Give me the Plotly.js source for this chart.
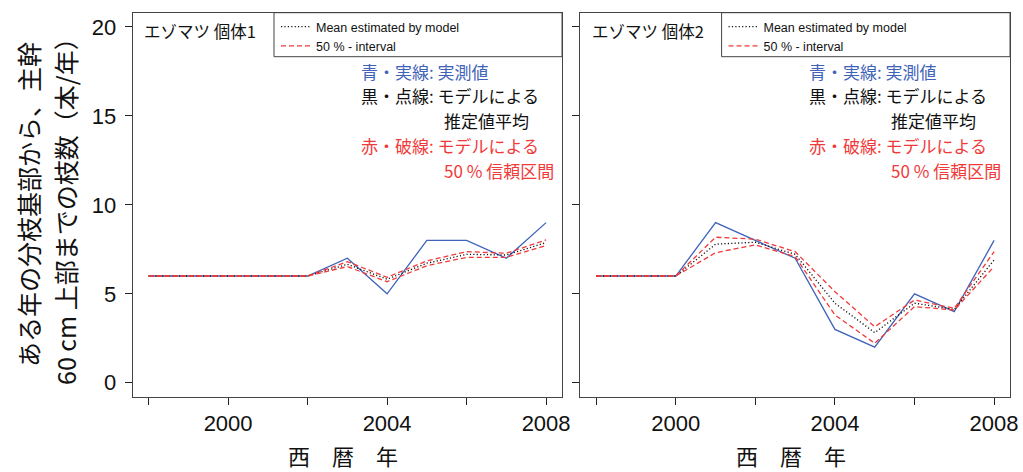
<!DOCTYPE html>
<html>
<head>
<meta charset="utf-8">
<script src="https://cdn.plot.ly/plotly-3.0.1.min.js"></script>
<style>
  html, body { margin: 0; padding: 0; background: #fff; }
  #chart { width: 1023px; height: 472px; }
</style>
</head>
<body>
<div id="chart"></div>
<script>
// Years of observation
const years = [1998, 1999, 2000, 2001, 2002, 2003, 2004, 2005, 2006, 2007, 2008];

// Tree 1: observed counts, model mean, 50 % interval bounds
const obs1  = [6, 6, 6, 6, 6, 7, 5, 8, 8, 7, 9];
const mean1 = [6, 6, 6, 6, 6, 6.66, 5.82, 6.72, 7.22, 7.18, 7.88];
const lo1   = [6, 6, 6, 6, 6, 6.53, 5.68, 6.58, 7.05, 7.05, 7.71];
const hi1   = [6, 6, 6, 6, 6, 6.81, 5.93, 6.85, 7.37, 7.28, 8.03];

// Tree 2
const obs2  = [6, 6, 6, 9, 8, 7, 3, 2, 5, 4, 8];
const mean2 = [6, 6, 6, 7.79, 7.9, 7.22, 4.47, 2.82, 4.47, 4.13, 6.9];
const lo2   = [6, 6, 6, 7.31, 7.75, 7.09, 3.81, 2.22, 4.28, 4.09, 6.53];
const hi2   = [6, 6, 6, 8.18, 8.07, 7.37, 5.12, 3.15, 4.65, 4.19, 7.37];

// Axis ticks
const xTickVals = [1998, 2000, 2002, 2004, 2006, 2008];
const xTickText = ['', '2000', '', '2004', '', '2008'];
const yTickVals = [0, 5, 10, 15, 20];

// Text
const panelNames = ['エゾマツ 個体1', 'エゾマツ 個体2'];
const meanName = 'Mean estimated by model';
const intervalName = '50 % - interval';
const noteLines = [
  {text: '青・実線: 実測値', color: 'blue', indent: false},
  {text: '黒・点線: モデルによる', color: 'black', indent: false},
  {text: '推定値平均', color: 'black', indent: true},
  {text: '赤・破線: モデルによる', color: 'red', indent: false},
  {text: '50 % 信頼区間', color: 'red', indent: true}
];
const yTitleLines = ['ある年の分枝基部から、主幹', '60 cm 上部までの枝数（本/年）'];
const xTitle = '西　暦　年';

const BLUE = '#3f63b9';
const RED = '#f03a3a';
const LATIN = 'Liberation Sans, Arial, sans-serif';
const CJK = 'Noto Sans CJK JP, sans-serif';
const colorOf = {blue: BLUE, black: '#111', red: RED};

function panelTraces(obs, mean, lo, hi, k) {
  const xa = k === 1 ? 'x' : 'x2';
  const ya = k === 1 ? 'y' : 'y2';
  const lg = k === 1 ? 'legend' : 'legend2';
  return [
    {x: years, y: obs, xaxis: xa, yaxis: ya, mode: 'lines', showlegend: false,
     line: {color: BLUE, width: 1.3}, name: 'observed'},
    {x: years, y: mean, xaxis: xa, yaxis: ya, mode: 'lines', legend: lg, name: meanName,
     line: {color: '#111', width: 1.3, dash: '1.2px,2.2px'}},
    {x: years, y: lo, xaxis: xa, yaxis: ya, mode: 'lines', legend: lg, name: intervalName,
     line: {color: RED, width: 1.3, dash: '5px,3px'}},
    {x: years, y: hi, xaxis: xa, yaxis: ya, mode: 'lines', legend: lg, showlegend: false, name: intervalName,
     line: {color: RED, width: 1.3, dash: '5px,3px'}}
  ];
}

const data = panelTraces(obs1, mean1, lo1, hi1, 1).concat(panelTraces(obs2, mean2, lo2, hi2, 2));

const W = 1023, H = 472;
const frameTop = 12.7, frameBottom = 397;
const panels = [[132.7, 562], [580.3, 1010]];

function xAxis(i) {
  return {
    domain: [panels[i][0] / W, panels[i][1] / W],
    range: [1997.6, 2008.4],
    tickvals: xTickVals, ticktext: xTickText,
    ticks: 'outside', ticklen: 7, tickwidth: 1, tickcolor: '#222',
    showline: true, mirror: true, linecolor: '#444', linewidth: 1,
    showgrid: false, zeroline: false,
    tickfont: {family: LATIN, size: 22, color: '#111'},
    anchor: i === 0 ? 'y' : 'y2', fixedrange: true
  };
}
function yAxis(i) {
  return {
    domain: [(H - frameBottom) / H, (H - frameTop) / H],
    range: [-0.8, 20.8],
    tickvals: yTickVals,
    ticks: 'outside', ticklen: 7, tickwidth: 1, tickcolor: '#222',
    showline: true, mirror: true, linecolor: '#444', linewidth: 1,
    showgrid: false, zeroline: false,
    showticklabels: i === 0,
    ticklabelstandoff: 4,
    tickfont: {family: LATIN, size: 22, color: '#111'},
    anchor: i === 0 ? 'x' : 'x2', fixedrange: true
  };
}

const annotations = [];
const shapes = [];
[0, 1].forEach(i => {
  const xd = i === 0 ? 'x domain' : 'x2 domain';
  const yd = i === 0 ? 'y domain' : 'y2 domain';
  const pw = panels[i][1] - panels[i][0];
  const ph = frameBottom - frameTop;
  // panel name, top-left corner
  annotations.push({xref: xd, yref: yd, x: (142 - 132.7) / pw, y: (frameBottom - 31) / ph,
    xanchor: 'left', yanchor: 'middle', showarrow: false, text: panelNames[i],
    font: {family: CJK, size: 16.5, color: '#111'}});
  // note lines below the legend box
  noteLines.forEach((ln, j) => {
    const px = ln.indent ? 441.5 : 359;
    const py = 71 + j * 24.8;
    annotations.push({xref: xd, yref: yd, x: (px - 132.7) / pw, y: (frameBottom - py) / ph,
      xanchor: 'left', yanchor: 'middle', showarrow: false, text: ln.text,
      font: {family: CJK, size: 17, color: colorOf[ln.color]}});
  });
  // legend frame
  shapes.push({type: 'rect', xref: xd, yref: yd, x0: (274 - 132.7) / pw, x1: 1,
    y0: (frameBottom - 56.7) / ph, y1: 1, line: {color: '#444', width: 1}});
  // x-axis title
  annotations.push({xref: 'paper', yref: 'paper', x: (panels[i][0] + panels[i][1]) / 2 / W - 0.004,
    y: (H - 455) / H, xanchor: 'center', yanchor: 'middle', showarrow: false, text: xTitle,
    borderpad: 0, font: {family: CJK, size: 22, color: '#111'}});
});
// y-axis title, two rotated lines
[28, 65].forEach((px, j) => {
  annotations.push({xref: 'paper', yref: 'paper', x: px / W, y: (H - 205) / H,
    xanchor: 'center', yanchor: 'middle', textangle: -90, showarrow: false, text: yTitleLines[j],
    font: {family: CJK, size: 25, color: '#111'}});
});

function legendAt(px) {
  return {x: px / W, y: (H - 12) / H, xanchor: 'left', yanchor: 'top',
    bgcolor: 'rgba(0,0,0,0)', borderwidth: 0, tracegroupgap: 0,
    font: {family: LATIN, size: 12.5, color: '#111'}};
}

const layout = {
  width: W, height: H,
  margin: {l: 0, r: 0, t: 0, b: 0},
  paper_bgcolor: '#fff', plot_bgcolor: '#fff',
  xaxis: xAxis(0), xaxis2: xAxis(1),
  yaxis: yAxis(0), yaxis2: yAxis(1),
  legend: legendAt(276), legend2: legendAt(723.5),
  annotations: annotations, shapes: shapes,
  showlegend: true
};

Plotly.newPlot('chart', data, layout, {staticPlot: true, displayModeBar: false});
</script>
</body>
</html>
